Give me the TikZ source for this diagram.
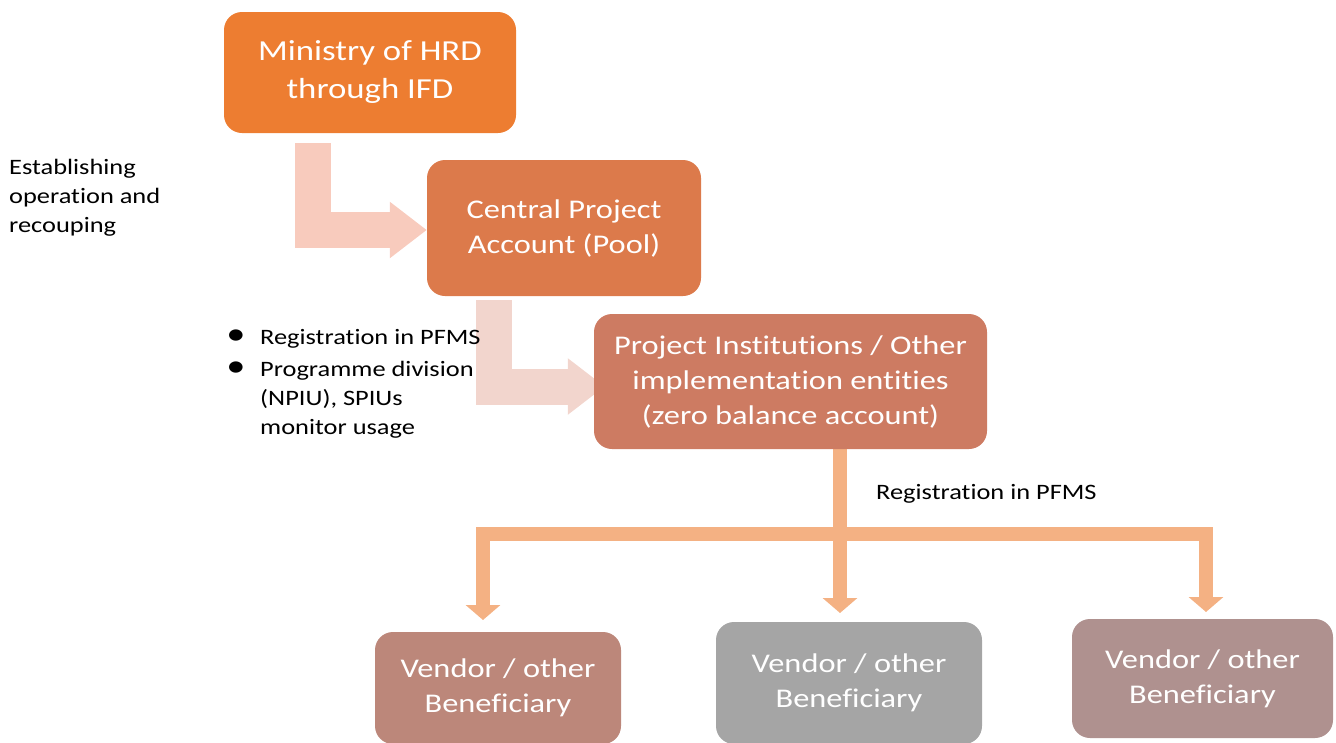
\documentclass[tikz,border=0pt]{standalone}
\usepackage{fontspec}
\setmainfont{Carlito}[FakeStretch=1.2, Ligatures=NoCommon]
\usetikzlibrary{arrows.meta,backgrounds,calc}
\definecolor{cMin}{HTML}{ED7D31}
\definecolor{cCen}{HTML}{DC7A4B}
\definecolor{cPro}{HTML}{CD7B62}
\definecolor{cVa}{HTML}{BC877A}
\definecolor{cVb}{HTML}{A5A5A5}
\definecolor{cVc}{HTML}{AF918F}
\definecolor{cArA}{HTML}{F8CBBD}
\definecolor{cArB}{HTML}{F2D5CD}
\definecolor{cTree}{HTML}{F4B183}
\tikzset{
  box/.style={rounded corners=18pt, text=white, align=center, inner sep=0pt},
  bigtxt/.style={font=\fontsize{27}{35}\selectfont},
  small/.style={font=\fontsize{22}{29}\selectfont, inner sep=0pt, align=left, text=black},
  bul/.style={font=\fontsize{32}{32}\selectfont, inner sep=0pt, text=black},
  bentarrow/.style={line width=36pt, -{Triangle[width=54pt,length=37pt]}},
  tree/.style={draw=cTree, line width=14pt, -{Triangle[width=34pt,length=15pt]}}
}
\begin{document}
\begin{tikzpicture}[x=1pt,y=-1pt]
\useasboundingbox (0,0) rectangle (1336,742);
% boxes
\node[box, fill=cMin, minimum width=292pt, minimum height=121pt, font=\fontsize{29}{38}\selectfont] (min) at (370,72.5) {\raisebox{-2pt}{Ministry of HRD}\\\raisebox{-2pt}{through IFD}};
\node[box, bigtxt, fill=cCen, minimum width=274pt, minimum height=136pt] (cen) at (564,228) {Central Project\\Account (Pool)};
\node[box, bigtxt, fill=cPro, minimum width=393pt, minimum height=135pt] (pro) at (790.5,381.5) {Project Institutions / Other\\implementation entities\\(zero balance account)};
\node[box, bigtxt, fill=cVa, minimum width=246pt, minimum height=112pt] (va) at (498,688) {\raisebox{-2pt}{Vendor / other}\\\raisebox{-2pt}{Beneficiary}};
\node[box, bigtxt, fill=cVb, minimum width=266pt, minimum height=122pt] (vb) at (849,683) {\raisebox{-2pt}{Vendor / other}\\\raisebox{-2pt}{Beneficiary}};
\node[box, bigtxt, fill=cVc, minimum width=261pt, minimum height=119pt] (vc) at (1202.5,678.5) {\raisebox{-1pt}{Vendor / other}\\\raisebox{-1pt}{Beneficiary}};
% texts
\node[small, anchor=west] (est) at (9,198) {Establishing\\operation and\\recouping};
\node[bul] (b1) at (236,337) {\textbullet};
\node[bul] (b2) at (236,369) {\textbullet};
\node[small, anchor=west] (reg1) at (260,339) {Registration in PFMS};
\node[small, anchor=north west] (prog) at (260,361) {Programme division\\(NPIU), SPIUs\\monitor usage};
\node[small, anchor=west] (reg2) at (876,494) {Registration in PFMS};
% connectors
\coordinate (s1) at (313,143);
\coordinate (s2) at (493.5,300);
\coordinate (j) at (840,534);
\coordinate (ta) at (483,620);
\coordinate (tb) at (840,613);
\coordinate (tc) at (1206,612);
\begin{scope}[on background layer]
\draw[bentarrow, draw=cArA] (s1) |- ($(cen.west)+(0,2)$);
\draw[bentarrow, draw=cArB] (s2) |- ($(pro.west)+(11,5)$);
\draw[tree] (pro.south -| j) -- (tb);
\draw[tree] ($(j)+(7,0)$) -| (ta);
\draw[tree] ($(j)+(-7,0)$) -| (tc);
\end{scope}
\end{tikzpicture}
\end{document}
